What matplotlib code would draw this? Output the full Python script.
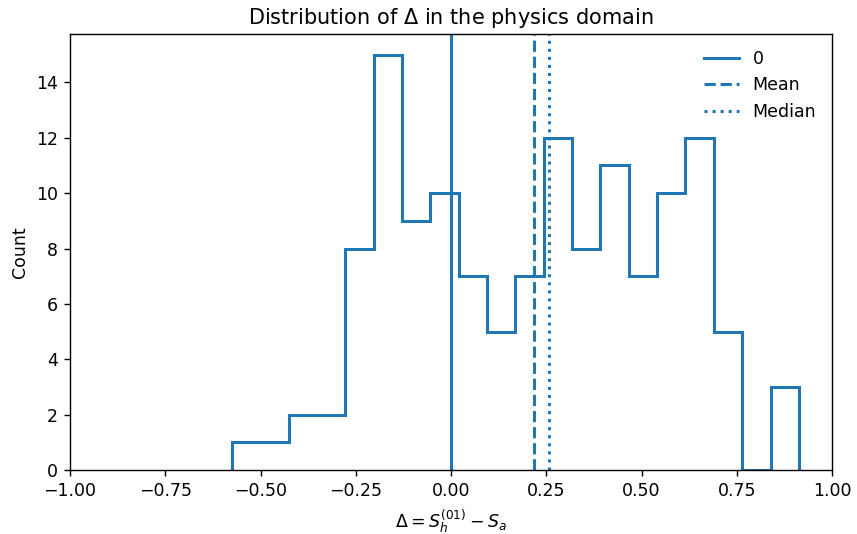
import numpy as np
import matplotlib.pyplot as plt

# histogram: 20 bins between the min and max delta
bin_lo = -0.575
bin_hi = 0.913
counts = [1, 1, 2, 2, 8, 15, 9, 10, 7, 5, 7, 12, 8, 11, 7, 10, 12, 5, 0, 3]
mean_delta = 0.218
median_delta = 0.256

edges = np.linspace(bin_lo, bin_hi, len(counts) + 1)
centers = (edges[:-1] + edges[1:]) / 2

dpi = 125
fig, ax = plt.subplots(figsize=(857 / dpi, 534 / dpi), dpi=dpi)
fig.subplots_adjust(left=70 / 857, right=832 / 857, top=1 - 34 / 534, bottom=1 - 470 / 534)

lw = 1.75
ax.hist(centers, bins=edges, weights=counts, histtype='step', linewidth=lw, color='C0')
ax.axvline(0, color='C0', linestyle='-', linewidth=lw, label='0')
ax.axvline(mean_delta, color='C0', linestyle='--', linewidth=lw, label='Mean')
ax.axvline(median_delta, color='C0', linestyle=':', linewidth=lw, label='Median')

ax.set_xlim(-1, 1)
ax.set_xlabel(r'$\Delta = S_h^{(01)} - S_a$')
ax.set_ylabel('Count')
ax.set_title(r'Distribution of $\Delta$ in the physics domain')
ax.legend(frameon=False)

fig.savefig('out.png', dpi=dpi)
